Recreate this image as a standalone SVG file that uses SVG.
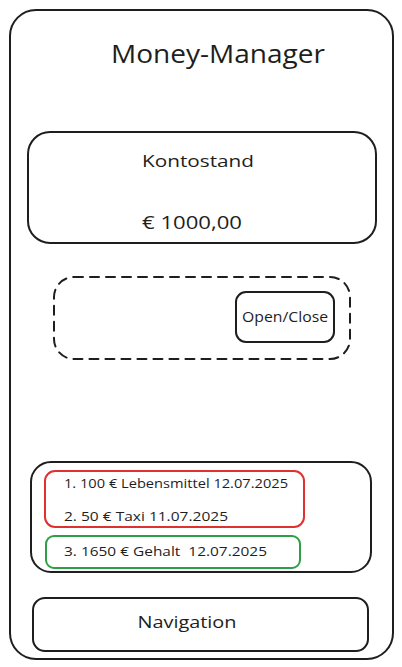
<svg xmlns="http://www.w3.org/2000/svg" width="402" height="667" viewBox="0 0 402 667">
<style>
.box{fill:none;stroke:#1e1e1e;stroke-width:2;stroke-linecap:round;stroke-linejoin:round}
.dash{stroke-dasharray:9 7}
.red{fill:none;stroke:#e03131;stroke-width:2}
.green{fill:none;stroke:#2f9e44;stroke-width:2}
text{font-family:"Open Sans","Liberation Sans",sans-serif;fill:#1e1e1e}
</style>
<rect width="402" height="667" fill="#ffffff"/>
<g id="frame">
<rect class="box" x="10" y="10" width="383" height="649" rx="26"/>
<text x="218" y="63" font-size="25" text-anchor="middle" textLength="214" lengthAdjust="spacingAndGlyphs">Money-Manager</text>
</g>
<g id="kontostand">
<rect class="box" x="28" y="132" width="348" height="111" rx="22"/>
<text x="198" y="167" font-size="17" text-anchor="middle" textLength="112" lengthAdjust="spacingAndGlyphs">Kontostand</text>
<text x="142" y="229" font-size="19" textLength="100" lengthAdjust="spacingAndGlyphs">€ 1000,00</text>
</g>
<g id="panel">
<rect class="box dash" x="54" y="277" width="296" height="82" rx="20"/>
</g>
<g id="toggle">
<rect class="box" x="236" y="292" width="98" height="50" rx="10"/>
<text x="285" y="322" font-size="14" text-anchor="middle" textLength="86" lengthAdjust="spacingAndGlyphs">Open/Close</text>
</g>
<g id="list">
<rect class="box" x="31" y="462" width="340" height="110" rx="20"/>
</g>
<g id="expenses">
<rect class="red" x="45" y="471" width="259" height="56" rx="10"/>
<text x="64" y="488" font-size="13" textLength="224" lengthAdjust="spacingAndGlyphs">1. 100 € Lebensmittel 12.07.2025</text>
<text x="64" y="521" font-size="13" textLength="164" lengthAdjust="spacingAndGlyphs">2. 50 € Taxi 11.07.2025</text>
</g>
<g id="income">
<rect class="green" x="46" y="536" width="254" height="32" rx="8"/>
<text x="64" y="556" font-size="13" textLength="203" lengthAdjust="spacingAndGlyphs">3. 1650 € Gehalt &#160;12.07.2025</text>
</g>
<g id="navigation">
<rect class="box" x="33" y="598" width="335" height="53" rx="12"/>
<text x="187" y="628" font-size="17" text-anchor="middle" textLength="99" lengthAdjust="spacingAndGlyphs">Navigation</text>
</g>
<g id="connectors"/>
</svg>
